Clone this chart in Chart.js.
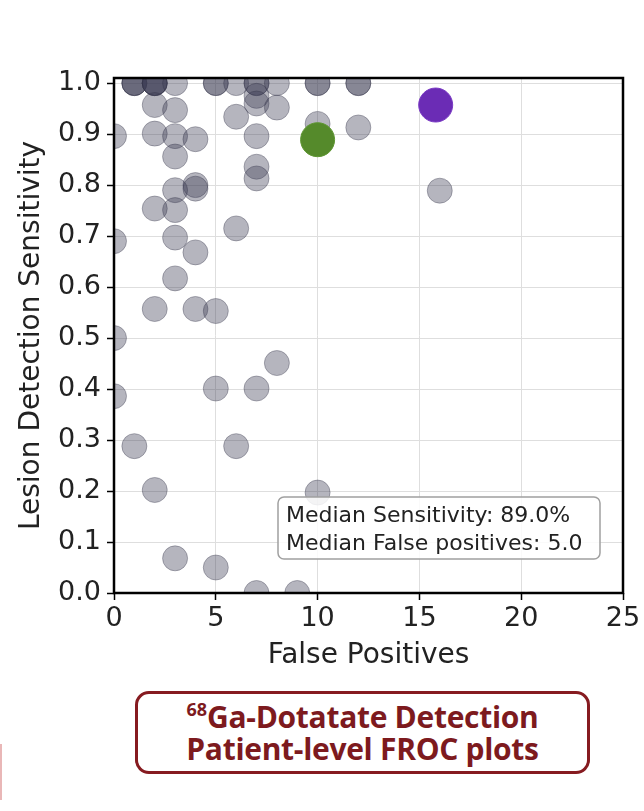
<!DOCTYPE html>
<html>
<head>
<meta charset="utf-8">
<script src="https://cdn.jsdelivr.net/npm/chart.js@4.4.1/dist/chart.umd.min.js"></script>
<style>
  html, body { margin: 0; padding: 0; background: #ffffff; }
  body { width: 644px; height: 811px; position: relative; overflow: hidden; }
  #wrap { position: absolute; left: 0; top: 0; width: 644px; height: 680px; }
  #caption {
    position: absolute; left: 135px; top: 691px; width: 449px; height: 77px;
    border: 3px solid #861b20; border-radius: 14px; background: #fff;
    color: #7d1a1e; font-family: "Open Sans", "Noto Sans", sans-serif; font-weight: 700;
    font-size: 30px; line-height: 32px; letter-spacing: -0.3px; text-align: center;
    display: flex; flex-direction: column; justify-content: center;
  }
  #caption sup { font-size: 18px; line-height: 0; vertical-align: 12px; letter-spacing: 0; }
  #edge { position: absolute; left: 0; top: 744px; width: 2px; height: 56px; background: #e9b7b7; }
</style>
</head>
<body>
<div id="wrap"><canvas id="c" width="644" height="680"></canvas></div>
<div id="caption"><div><sup>68</sup>Ga-Dotatate Detection</div><div>Patient-level FROC plots</div></div>
<div id="edge"></div>
<script>
// ---- data ----
const greyFP = [1,1,1,2,2,2,2,3,5,5,6,7,7,8,10,10,12,12,
  2,3,6,7,7,8,10,12,
  0,2,3,3,4,7,
  7,7,4,4,3,3,2,6,
  0,3,4,3,2,4,5,0,8,5,7,0,
  1,6,2,10,3,5,7,9,16];
const greySens = [1,1,1,1,1,1,1,1,1,1,1,1,1,1,1,1,1,1,
  0.957,0.947,0.934,0.975,0.96,0.952,0.92,0.913,
  0.896,0.901,0.896,0.856,0.89,0.896,
  0.836,0.813,0.8,0.793,0.79,0.751,0.754,0.715,
  0.69,0.697,0.668,0.617,0.557,0.557,0.553,0.5,0.451,0.401,0.401,0.386,
  0.288,0.288,0.202,0.197,0.068,0.05,0,0,0.789];
const greenFP = [10];
const greenSens = [0.889];
const purpleFP = [15.8];
const purpleSens = [0.957];
const xTicks = [0, 5, 10, 15, 20, 25];
const yTicks = [0, 0.1, 0.2, 0.3, 0.4, 0.5, 0.6, 0.7, 0.8, 0.9, 1.0];
const annotationLines = ["Median Sensitivity: 89.0%", "Median False positives: 5.0"];

const toPts = (xs, ys) => xs.map((x, i) => ({x: x, y: ys[i]}));

const FONT = "DejaVu Sans";

const boxPlugin = {
  id: 'boxPlugin',
  afterDatasetsDraw(chart) {
    const ctx = chart.ctx, ca = chart.chartArea;
    // annotation box
    const bx = ca.left + 164, by = ca.top + 419, bw = 322, bh = 62, r = 6;
    ctx.save();
    ctx.beginPath();
    ctx.roundRect(bx, by, bw, bh, r);
    ctx.fillStyle = 'rgba(255,255,255,0.85)';
    ctx.fill();
    ctx.lineWidth = 1.5;
    ctx.strokeStyle = '#a0a0a0';
    ctx.stroke();
    ctx.fillStyle = '#222222';
    ctx.font = '22px "' + FONT + '"';
    ctx.textBaseline = 'alphabetic';
    ctx.textAlign = 'left';
    ctx.fillText(annotationLines[0], bx + 8, by + 25);
    ctx.fillText(annotationLines[1], bx + 8, by + 53);
    // spines
    ctx.lineWidth = 2.5;
    ctx.strokeStyle = '#000';
    ctx.strokeRect(ca.left, ca.top, ca.right - ca.left, ca.bottom - ca.top);
    ctx.restore();
  }
};

new Chart(document.getElementById('c'), {
  type: 'scatter',
  data: {
    datasets: [
      { data: toPts(greyFP, greySens), order: 3, clip: 0,
        pointRadius: 12.5, pointHoverRadius: 12.5,
        backgroundColor: 'rgba(60,60,85,0.38)', borderColor: 'rgba(50,50,70,0.35)', borderWidth: 1 },
      { data: toPts(greenFP, greenSens), order: 1, clip: 0,
        pointRadius: 17, pointHoverRadius: 17,
        backgroundColor: '#558a2b', borderColor: '#5e9632', borderWidth: 1 },
      { data: toPts(purpleFP, purpleSens), order: 1, clip: 0,
        pointRadius: 17, pointHoverRadius: 17,
        backgroundColor: '#6b2cb5', borderColor: '#7a3ac4', borderWidth: 1 }
    ]
  },
  options: {
    responsive: false,
    animation: false,
    events: [],
    layout: { padding: { left: 0, top: 78, right: 21, bottom: 0 } },
    plugins: { legend: { display: false }, tooltip: { enabled: false } },
    scales: {
      x: {
        type: 'linear', min: 0, max: 25,
        afterFit(s) { s.height = 87; },
        afterBuildTicks(s) { s.ticks = xTicks.map(v => ({value: v})); },
        ticks: { color: '#222', font: { family: FONT, size: 27 }, padding: 3,
          callback: v => String(v) },
        grid: { color: '#dedede', lineWidth: 1, tickColor: '#000', tickLength: 7, tickWidth: 1.5 },
        border: { display: false },
        title: { display: true, text: 'False Positives', color: '#222',
          font: { family: FONT, size: 28 }, padding: { top: 0, bottom: 7 } }
      },
      y: {
        type: 'linear', min: 0, max: 1.01,
        afterFit(s) { s.width = 114; },
        afterBuildTicks(s) { s.ticks = yTicks.map(v => ({value: v})); },
        ticks: { color: '#222', font: { family: FONT, size: 27 }, padding: 6,
          callback: v => Number(v).toFixed(1) },
        grid: { color: '#dedede', lineWidth: 1, tickColor: '#000', tickLength: 7, tickWidth: 1.5 },
        border: { display: false },
        title: { display: true, text: 'Lesion Detection Sensitivity', color: '#222',
          font: { family: FONT, size: 28 }, padding: { top: 15, bottom: 0 } }
      }
    }
  },
  plugins: [boxPlugin]
});
</script>
</body>
</html>
